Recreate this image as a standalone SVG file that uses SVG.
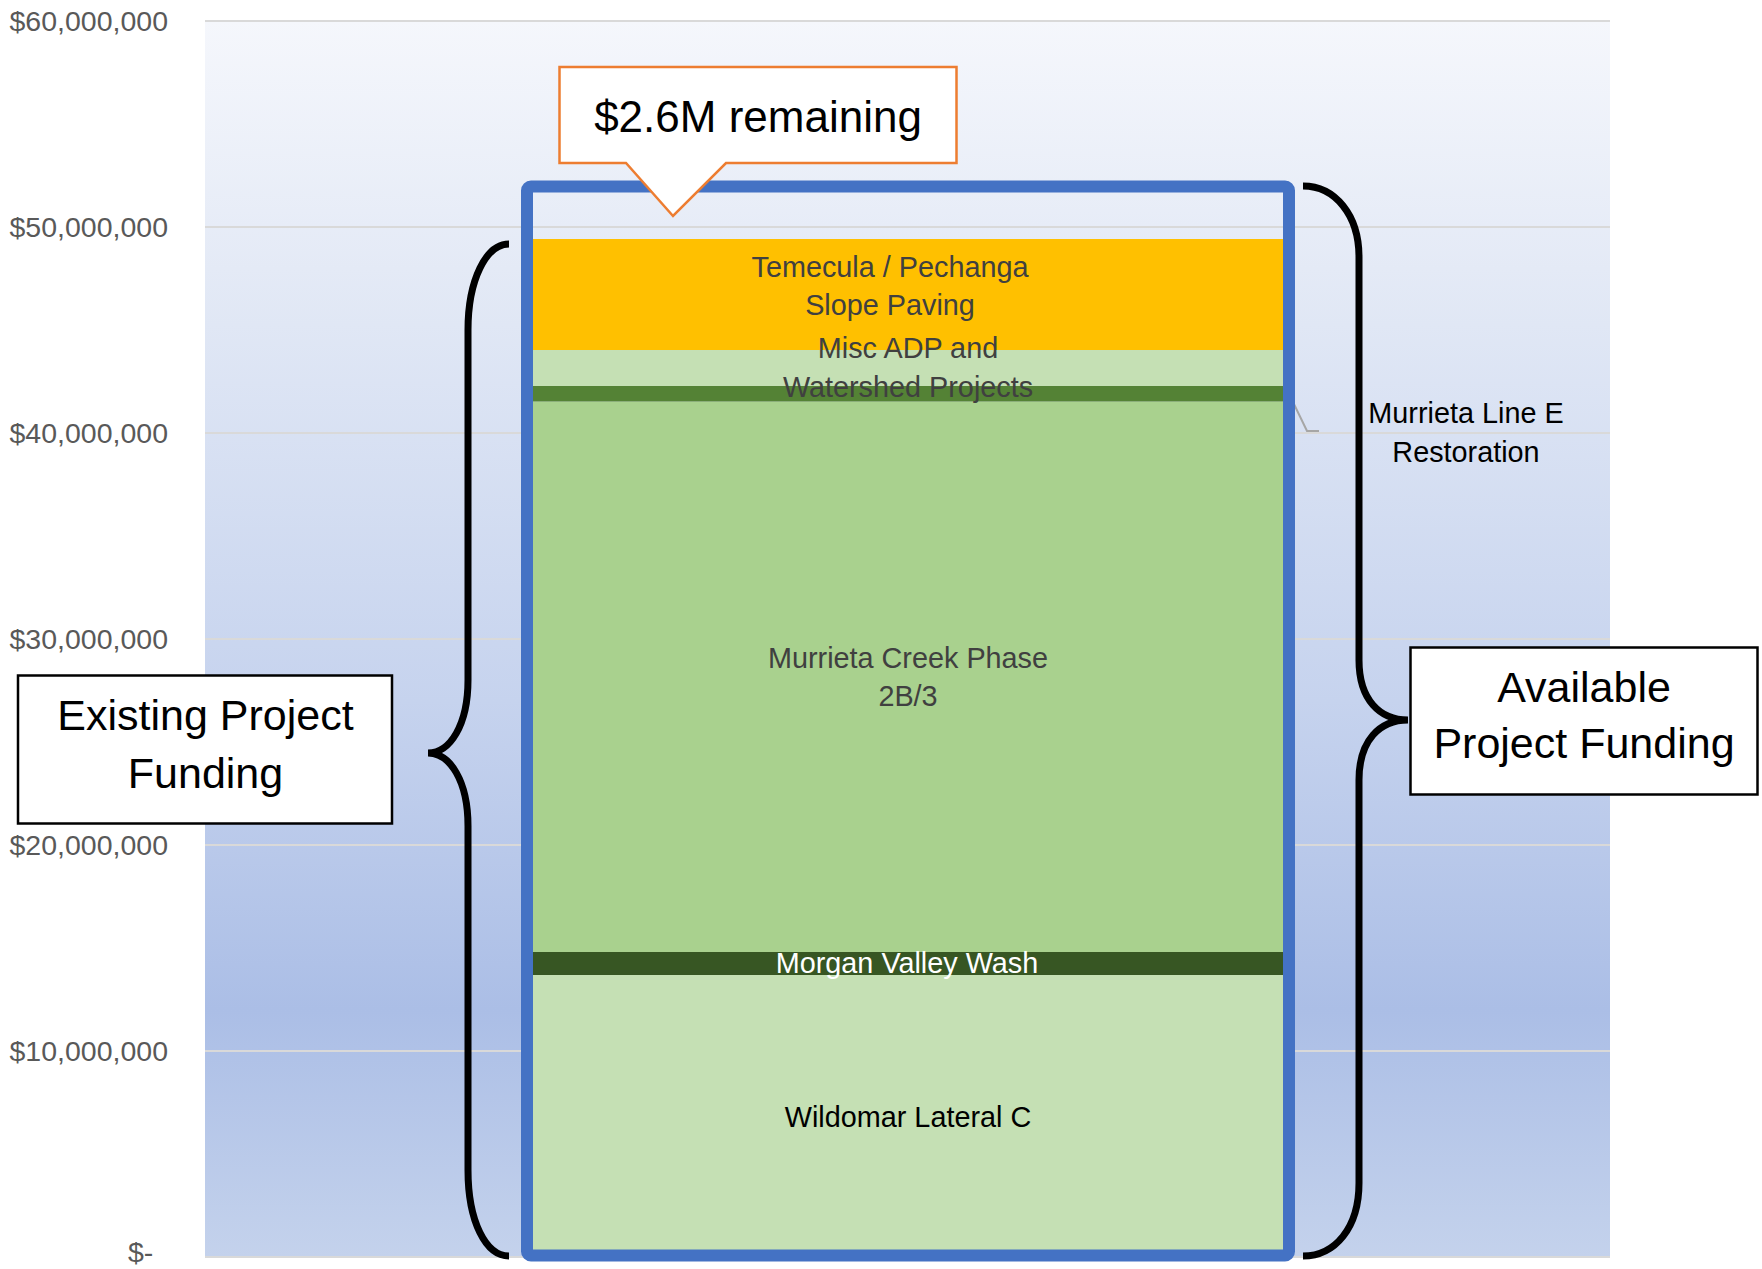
<svg xmlns="http://www.w3.org/2000/svg" width="1762" height="1269" viewBox="0 0 1762 1269">
  <defs>
    <linearGradient id="plotBg" x1="0" y1="0" x2="0" y2="1">
      <stop offset="0" stop-color="#f5f7fc"/>
      <stop offset="0.2" stop-color="#e4eaf6"/>
      <stop offset="0.55" stop-color="#c6d3ee"/>
      <stop offset="0.8" stop-color="#abbee6"/>
      <stop offset="1" stop-color="#c4d2ec"/>
    </linearGradient>
  </defs>
  <style>
    .axis { font-family: "Liberation Sans", Arial, sans-serif; font-size: 28.5px; fill: #595959; }
    .grid { stroke: #d9d9d9; stroke-width: 2; }
    .barlbl { font-family: "Liberation Sans", Arial, sans-serif; font-size: 28.8px; text-anchor: middle; fill: #404040; }
    .boxlbl { font-family: "Liberation Sans", Arial, sans-serif; font-size: 43px; text-anchor: middle; fill: #000000; }
    .brace { fill: none; stroke: #000000; stroke-width: 7; stroke-linecap: butt; stroke-linejoin: miter; }
  </style>

  <rect width="1762" height="1269" fill="#ffffff"/>

  <!-- plot area and gridlines -->
  <g id="plot-area">
    <rect x="205" y="21" width="1405" height="1236" fill="url(#plotBg)"/>
    <line class="grid" x1="205" y1="21" x2="1610" y2="21"/>
    <line class="grid" x1="205" y1="227" x2="1610" y2="227"/>
    <line class="grid" x1="205" y1="433" x2="1610" y2="433"/>
    <line class="grid" x1="205" y1="639" x2="1610" y2="639"/>
    <line class="grid" x1="205" y1="845" x2="1610" y2="845"/>
    <line class="grid" x1="205" y1="1051" x2="1610" y2="1051"/>
    <line class="grid" x1="205" y1="1257" x2="1610" y2="1257"/>
  </g>

  <!-- value axis -->
  <g id="value-axis">
    <text class="axis" x="168" y="31" text-anchor="end">$60,000,000</text>
    <text class="axis" x="168" y="237" text-anchor="end">$50,000,000</text>
    <text class="axis" x="168" y="443" text-anchor="end">$40,000,000</text>
    <text class="axis" x="168" y="649" text-anchor="end">$30,000,000</text>
    <text class="axis" x="168" y="855" text-anchor="end">$20,000,000</text>
    <text class="axis" x="168" y="1061" text-anchor="end">$10,000,000</text>
    <text class="axis" x="128" y="1262">$-</text>
  </g>

  <!-- stacked bar segments -->
  <g id="wildomar-lateral-c">
    <rect x="527" y="975" width="762" height="282" fill="#c5e0b4"/>
    <text class="barlbl" x="908" y="1127" style="fill:#000000">Wildomar Lateral C</text>
  </g>
  <g id="morgan-valley-wash">
    <rect x="527" y="952" width="762" height="23" fill="#375623"/>
  </g>
  <g id="murrieta-creek">
    <rect x="527" y="401.5" width="762" height="550.5" fill="#a9d18e"/>
    <text class="barlbl" x="908" y="668">Murrieta Creek Phase</text>
    <text class="barlbl" x="908" y="706">2B/3</text>
  </g>
  <g id="murrieta-line-e">
    <rect x="527" y="386" width="762" height="15.5" fill="#548235"/>
  </g>
  <g id="misc-adp">
    <rect x="527" y="350" width="762" height="36" fill="#c5e0b4"/>
  </g>
  <g id="temecula-pechanga">
    <rect x="527" y="239" width="762" height="111" fill="#ffc000"/>
    <text class="barlbl" x="890" y="277">Temecula / Pechanga</text>
    <text class="barlbl" x="890" y="315">Slope Paving</text>
  </g>
  <g id="misc-adp-label">
    <text class="barlbl" x="908" y="358">Misc ADP and</text>
    <text class="barlbl" x="908" y="397">Watershed Projects</text>
  </g>
  <g id="morgan-valley-wash-label">
    <text class="barlbl" x="907" y="973" style="fill:#ffffff">Morgan Valley Wash</text>
  </g>

  <!-- connectors: leader line and braces -->
  <g id="connectors">
    <polyline points="1292,400 1307,431 1319,431" fill="none" stroke="#a6a6a6" stroke-width="2"/>
    <path class="brace" d="M509,244 C486,244 468,280 468,330 L468,680 C468,725 450,753 428,753 C450,753 468,781 468,826 L468,1170 C468,1222 486,1256 509,1256"/>
    <path class="brace" d="M1303,186 C1335,186 1359,215 1359,257 L1359,660 C1359,700 1380,720 1408,720 C1380,720 1359,740 1359,780 L1359,1183 C1359,1228 1335,1256 1303,1256"/>
  </g>

  <!-- total funding frame -->
  <g id="funding-frame">
    <rect x="527" y="186.5" width="762" height="1069" rx="4" fill="none" stroke="#4472c4" stroke-width="12"/>
  </g>

  <g id="line-e-label">
    <text class="barlbl" x="1466" y="423" style="fill:#000000">Murrieta Line E</text>
    <text class="barlbl" x="1466" y="462" style="fill:#000000">Restoration</text>
  </g>

  <!-- callout -->
  <g id="remaining-callout">
    <path d="M559.5,67 H956.5 V163 H726 L673,216 L626,163 H559.5 Z" fill="#ffffff" stroke="#ed7d31" stroke-width="2.5"/>
    <text class="boxlbl" x="758" y="132" style="font-size:44px">$2.6M remaining</text>
  </g>

  <g id="existing-funding">
    <rect x="18" y="675.5" width="374" height="148" fill="#ffffff" stroke="#000000" stroke-width="2.5"/>
    <text class="boxlbl" x="205.5" y="730">Existing Project</text>
    <text class="boxlbl" x="205.5" y="788">Funding</text>
  </g>

  <g id="available-funding">
    <rect x="1410.5" y="647.5" width="347" height="147" fill="#ffffff" stroke="#000000" stroke-width="2.5"/>
    <text class="boxlbl" x="1584" y="702">Available</text>
    <text class="boxlbl" x="1584" y="758">Project Funding</text>
  </g>
</svg>
